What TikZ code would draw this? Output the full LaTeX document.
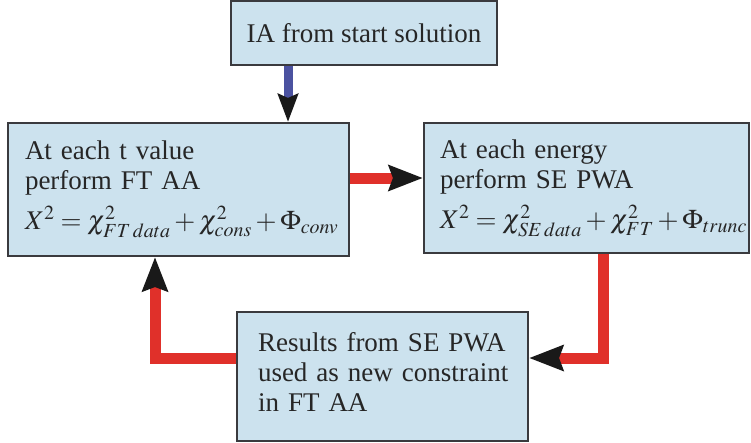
\documentclass[tikz,border=0pt]{standalone}
\usepackage{mathptmx}
\usepackage{fontspec}
\setmainfont{Liberation Serif}
\newfontfamily\boxfont{Liberation Serif}
\usetikzlibrary{arrows.meta,positioning,calc}
\definecolor{boxfill}{RGB}{204,226,238}
\definecolor{boxline}{RGB}{58,58,62}
\definecolor{redarr}{RGB}{224,48,42}
\definecolor{bluearr}{RGB}{75,82,160}
\tikzset{
  x=1pt,y=-1pt,
  box/.style={draw=boxline,fill=boxfill,line width=2pt,rectangle,align=left,
    font=\boxfont\fontsize{27}{30}\selectfont,text=black!85,inner ysep=4pt},
  redflow/.style={draw=redarr,line width=11pt,
    -{Stealth[length=34pt,width=25pt,inset=4pt,color=black!90]}},
  blueflow/.style={draw=bluearr,line width=9pt,
    -{Stealth[length=28pt,width=20pt,inset=4pt,color=black!90]}}
}
\begin{document}
\begin{tikzpicture}
\useasboundingbox (0,0) rectangle (751,442);
\node[box,minimum width=266pt,minimum height=64pt,align=center] (top) at (364,33) {IA from start solution};
\node[box,minimum width=341pt,minimum height=133pt,inner xsep=17pt,text width=307pt] (lft) at (178.5,189.5)
  {\mbox{At each t value}\\\mbox{perform FT AA}\\[10pt]\mbox{$X^2=\chi^2_{FT\,data}+\chi^2_{cons}+\Phi_{conv}$}};
\node[box,minimum width=325pt,minimum height=130pt,inner xsep=16pt,text width=293pt] (rgt) at (586.5,188)
  {\mbox{At each energy}\\\mbox{perform SE PWA}\\[10pt]\mbox{$X^2=\chi^2_{SE\,data}+\chi^2_{FT}+\Phi_{trunc}$}};
\node[box,minimum width=291pt,minimum height=129pt,inner xsep=21pt,text width=249pt] (bot) at (382.5,376.5)
  {\mbox{Results from SE PWA}\\\mbox{used as new constraint}\\\mbox{in FT AA}\\[-20pt]\mbox{}};
\coordinate (bx) at (288,0);
\coordinate (ry) at (0,178);
\coordinate (rx) at (603,0);
\coordinate (by) at (0,358);
\coordinate (lx) at (155,0);
\draw[blueflow] (bx |- top.south) -- (bx |- lft.north);
\draw[redflow] (lft.east |- ry) -- (rgt.west |- ry);
\draw[redflow] (rx |- rgt.south) |- (bot.east |- by);
\draw[redflow] (bot.west |- by) -| (lx |- lft.south);
\end{tikzpicture}
\end{document}
